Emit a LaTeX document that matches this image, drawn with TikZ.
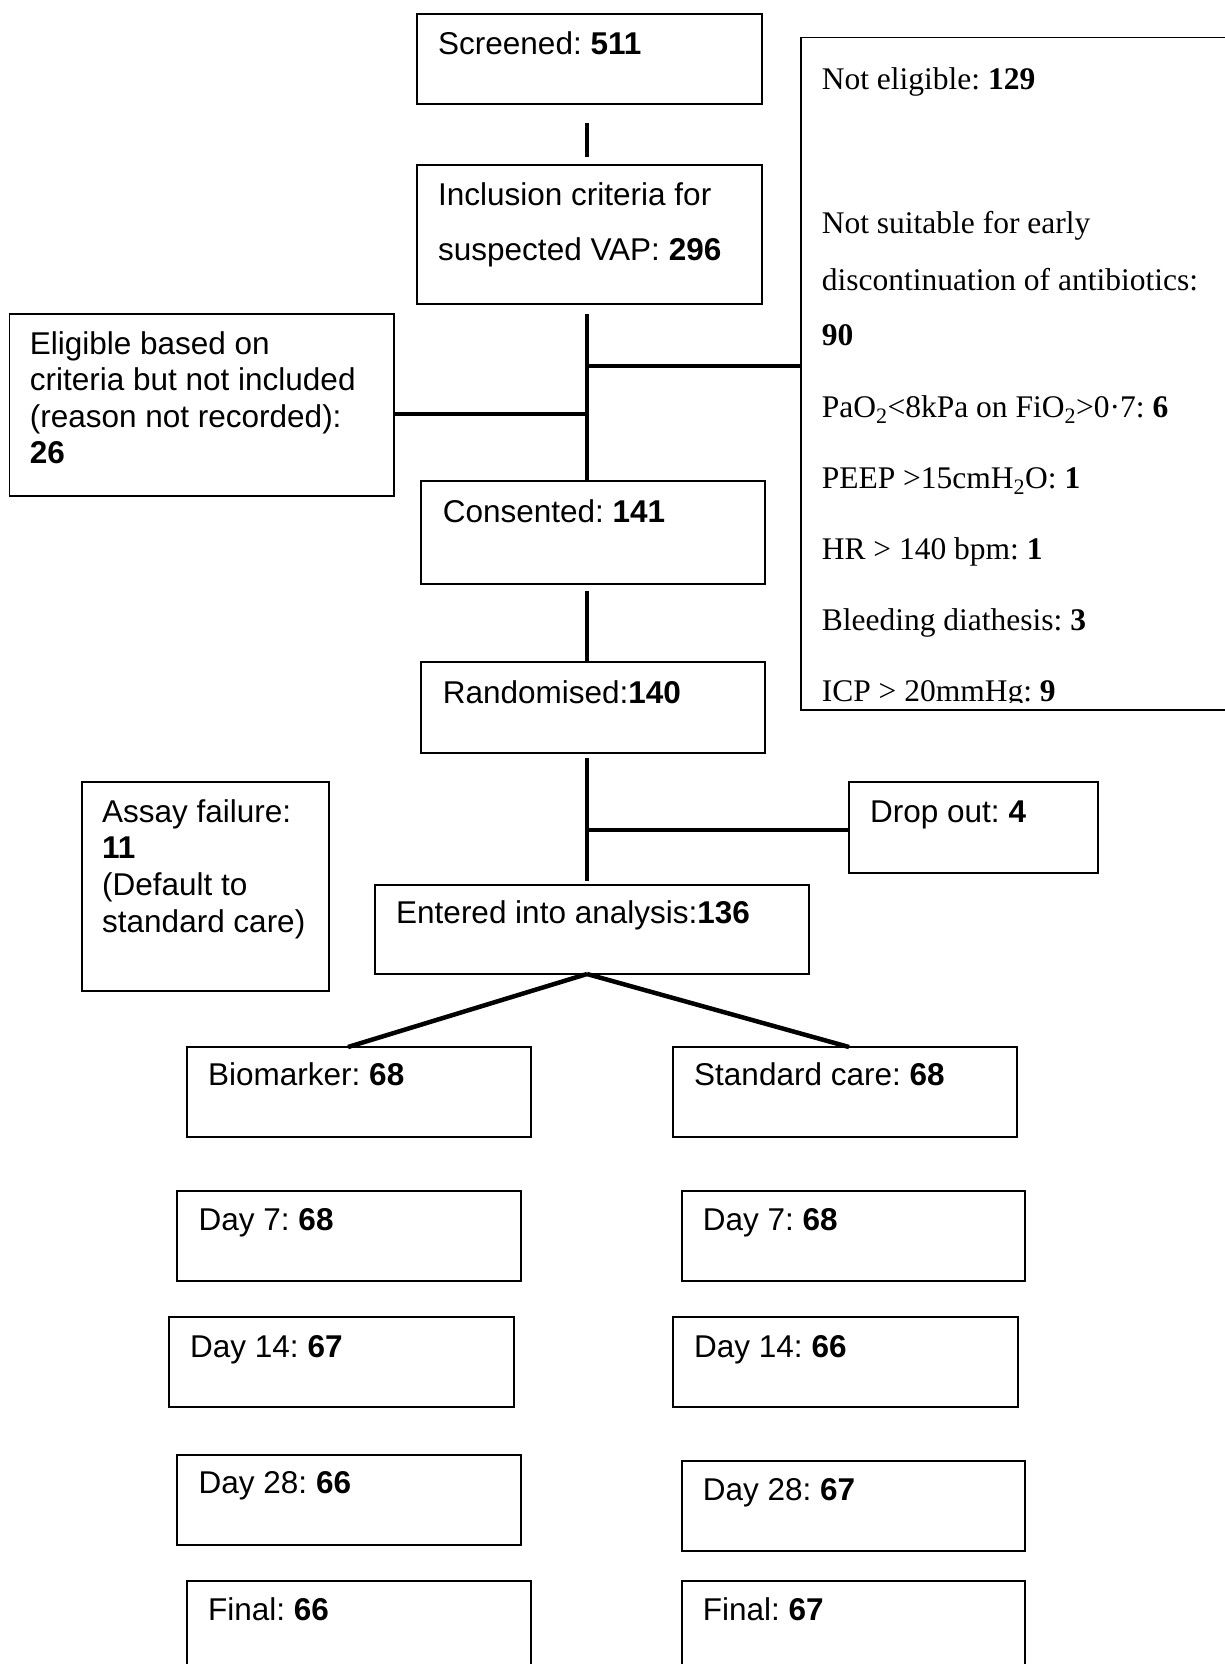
\documentclass[tikz,border=0pt]{standalone}
\usepackage{fontspec}
\setmainfont{Liberation Sans}
\newfontfamily\tnr{Liberation Serif}
\usetikzlibrary{calc}
\newcommand\bx[5]{\node[box, minimum width={(#4)-(#2)}, minimum height={(#5)-(#3)}] (#1) at ({((#2)+(#4))/2},{((#3)+(#5))/2}) {};}
\frenchspacing
\begin{document}
\frenchspacing
\begin{tikzpicture}[x=1pt,y=-1pt,
  box/.style={draw, line width=1.8pt, inner sep=0pt, outer sep=0pt},
  link/.style={line width=4.5pt},
  lbl/.style={anchor=base west, inner sep=0pt, font=\frenchspacing\fontsize{31.5}{36}\selectfont},
  tlbl/.style={anchor=base west, inner sep=0pt, font=\frenchspacing\tnr\fontsize{31.5}{36}\selectfont}]
\useasboundingbox (0,0) rectangle (1225,1664);
\fill[white] (0,0) rectangle (1225,1664);
\clip (0,0) rectangle (1225,1664);
% boxes
\bx{scr}{417}{14}{762}{104}
\bx{inc}{417}{165}{762}{304}
\bx{noteli}{801}{37.5}{1250}{710}
\bx{elig}{9.5}{314}{394}{496}
\bx{cons}{421}{481}{765}{584}
\bx{rand}{421}{662}{765}{753}
\bx{drop}{849}{782}{1098}{873}
\bx{assay}{82}{782}{329}{991}
\bx{ent}{375}{885}{809}{974}
\bx{bio}{187}{1047}{531}{1137}
\bx{std}{673}{1047}{1017}{1137}
\bx{dsl}{177}{1191}{521}{1281}
\bx{dsr}{682}{1191}{1025}{1281}
\bx{dfl}{169}{1317}{514}{1407}
\bx{dfr}{673}{1317}{1018}{1407}
\bx{dtl}{177}{1455}{521}{1545}
\bx{dtr}{682}{1461}{1025}{1551}
\bx{fnl}{187}{1581}{531}{1680}
\bx{fnr}{682}{1581}{1025}{1680}
% connectors
\coordinate (c1a) at ($(scr.south)+(-2.5,19)$);
\draw[link] (c1a) -- ($(c1a |- inc.north)+(0,-8)$);
\coordinate (c2a) at ($(inc.south)+(-2.5,10)$);
\draw[link] (c2a) -- (c2a |- cons.north);
\coordinate (j1) at ($(c2a)+(0,52)$);
\draw[link] (j1) -- (j1 -| noteli.west);
\coordinate (j2) at ($(c2a)+(0,100)$);
\draw[link] (j2) -- (j2 -| elig.east);
\coordinate (c3a) at ($(cons.south)+(-6,7)$);
\draw[link] (c3a) -- (c3a |- rand.north);
\coordinate (c4a) at ($(rand.south)+(-6,5)$);
\draw[link] (c4a) -- ($(c4a |- ent.north)+(0,-4)$);
\coordinate (j3) at ($(c4a)+(0,72)$);
\draw[link] (j3) -- (j3 -| drop.west);
\coordinate (apex) at ($(ent.south)+(-5,0)$);
\draw[link] ($(bio.north)+(-11,0)$) -- (apex);
\draw[link] (apex) -- ($(std.north)+(4,0)$);
% sans texts
\node[lbl] (t1) at (438,55) {Screened: \textbf{511}};
\node[lbl] (t2) at (438,205) {Inclusion criteria for};
\node[lbl] (t3) at (438,260) {suspected VAP: \textbf{296}};
\node[lbl] (t4) at (29.7,354) {Eligible based on};
\node[lbl] (t5) at (29.7,390) {criteria but not included};
\node[lbl] (t6) at (29.7,427) {(reason not recorded):};
\node[lbl] (t7) at (29.7,463) {\textbf{26}};
\node[lbl] (t8) at (442.6,522) {Consented: \textbf{141}};
\node[lbl] (t9) at (442.6,703) {Randomised:\textbf{140}};
\node[lbl] (t10) at (870,822) {Drop out: \textbf{4}};
\node[lbl] (t11) at (102,822) {Assay failure:};
\node[lbl] (t12) at (102,858) {\textbf{11}};
\node[lbl] (t13) at (102,895) {(Default to};
\node[lbl] (t14) at (102,932) {standard care)};
\node[lbl] (t15) at (396,923) {Entered into analysis:\textbf{136}};
\node[lbl] (t16) at (208,1085) {Biomarker: \textbf{68}};
\node[lbl] (t17) at (694,1085) {Standard care: \textbf{68}};
\node[lbl] (t18) at (198.5,1230) {Day 7: \textbf{68}};
\node[lbl] (t19) at (702.7,1230) {Day 7: \textbf{68}};
\node[lbl] (t20) at (190,1357) {Day 14: \textbf{67}};
\node[lbl] (t21) at (694,1357) {Day 14: \textbf{66}};
\node[lbl] (t22) at (198.5,1493) {Day 28: \textbf{66}};
\node[lbl] (t23) at (702.7,1500) {Day 28: \textbf{67}};
\node[lbl] (t24) at (208,1620) {Final: \textbf{66}};
\node[lbl] (t25) at (702.7,1620) {Final: \textbf{67}};
% serif texts in the right box
\begin{scope}
\clip (801,37) rectangle (1225,702);
\node[tlbl] (s1) at (821.6,90) {Not eligible: \textbf{129}};
\node[tlbl] (s2) at (821.6,233.5) {Not suitable for early};
\node[tlbl] (s3) at (821.6,290) {discontinuation of antibiotics:};
\node[tlbl] (s4) at (821.6,345) {\textbf{90}};
\node[tlbl] (s5) at (821.6,417) {PaO\textsubscript{2}<8kPa on FiO\textsubscript{2}>0·7: \textbf{6}};
\node[tlbl] (s6) at (821.6,488) {PEEP >15cmH\textsubscript{2}O: \textbf{1}};
\node[tlbl] (s7) at (821.6,559) {HR > 140 bpm: \textbf{1}};
\node[tlbl] (s8) at (821.6,630) {Bleeding diathesis: \textbf{3}};
\node[tlbl] (s9) at (821.6,701) {ICP > 20mmHg: \textbf{9}};
\end{scope}
\end{tikzpicture}
\end{document}
